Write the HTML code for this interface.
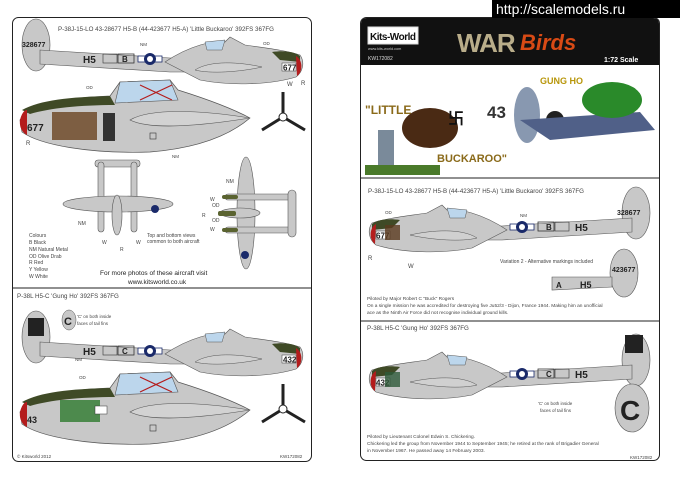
<!DOCTYPE html>
<html><head><meta charset="utf-8"><style>
body{margin:0;background:#fff;width:680px;height:480px;overflow:hidden}
svg{display:block}
text{font-family:"Liberation Sans",Arial,sans-serif}
</style></head><body>
<svg width="680" height="480" viewBox="0 0 680 480" xmlns="http://www.w3.org/2000/svg">
<defs>
<g id="plane">
  <ellipse cx="36" cy="45" rx="14" ry="26" fill="#c8c8c8" stroke="#555" stroke-width="0.6"/>
  <path d="M40 50 L170 58 L300 58 L300 72 L170 72 L40 64 Z" fill="#c8c8c8" stroke="#555" stroke-width="0.6"/>
  <path d="M165 62 C190 45 215 40 225 42 L230 37 L245 45 C265 48 285 50 300 55 C305 62 303 72 296 77 C270 85 230 86 200 80 Z" fill="#c8c8c8" stroke="#555" stroke-width="0.6"/>
  <path d="M272 52 C285 50 295 52 300 56 L300 62 L280 60 Z" fill="#3f4a26"/>
  <path d="M296 56 C303 60 303 72 297 76 Z" fill="#b41c1c"/>
  <path d="M205 42 L225 40 L222 50 L207 50 Z" fill="#bcd6ec" stroke="#555" stroke-width="0.5"/>
  <path d="M195 70 C210 60 240 62 262 67 C240 72 210 74 195 70 Z" fill="#d0d0d0" stroke="#555" stroke-width="0.5"/>
  <rect x="282" y="63" width="14" height="8" fill="#fff" stroke="#333" stroke-width="0.5"/>
  <rect x="103" y="54" width="14" height="9" fill="none" stroke="#333" stroke-width="0.6"/>
  <rect x="118" y="54" width="16" height="9" fill="none" stroke="#333" stroke-width="0.8"/>
  <rect x="138" y="56" width="24" height="6" fill="#fff" stroke="#1a2a6a" stroke-width="0.8"/>
  <circle cx="150" cy="59" r="6" fill="#1a2a6a"/>
  <circle cx="150" cy="59" r="3" fill="#fff"/>
</g>
<g id="big">
  <path d="M20 120 C30 105 60 98 110 96 L120 82 L170 80 L178 90 C210 100 235 110 250 118 C230 135 200 148 150 152 C90 154 40 145 22 132 Z" fill="#c8c8c8" stroke="#555" stroke-width="0.7"/>
  <path d="M22 110 C40 100 70 97 110 96 L115 105 C80 105 50 108 30 114 Z" fill="#3f4a26"/>
  <path d="M120 82 L170 80 L178 100 L115 103 Z" fill="#bcd6ec" stroke="#555" stroke-width="0.6"/>
  <path d="M140 85 L172 100 M172 85 L140 100" stroke="#b41c1c" stroke-width="1.2"/>
  <path d="M130 120 C150 108 200 110 250 118 C200 126 150 130 130 120 Z" fill="#d2d2d2" stroke="#555" stroke-width="0.6"/>
  <path d="M20 120 C22 112 25 110 27 110 L27 135 C23 133 19 128 20 120 Z" fill="#b41c1c"/>
  <rect x="150" y="133" width="6" height="6" fill="none" stroke="#333" stroke-width="0.6"/>
  <path d="M283 92 L283 117 M283 117 L262 130 M283 117 L305 130" stroke="#222" stroke-width="3"/>
  <circle cx="283" cy="117" r="4" fill="#fff" stroke="#222"/>
</g>
</defs>

<!-- LEFT PAGE -->
<rect x="12.5" y="17.5" width="299" height="444" rx="6" fill="#fff" stroke="#222" stroke-width="1"/>
<line x1="12" y1="288" x2="312" y2="288" stroke="#222" stroke-width="1"/>
<text x="58" y="31" font-size="6.2" fill="#444">P-38J-15-LO 43-28677 H5-B (44-423677 H5-A) 'Little Buckaroo' 392FS 367FG</text>
<use href="#plane"/>
<use href="#big"/>
<text x="283" y="70.5" font-size="8" font-weight="bold" fill="#222">677</text>
<text x="83" y="63" font-size="10" font-weight="bold" fill="#222">H5</text>
<text x="122" y="62" font-size="8" font-weight="bold" fill="#222">B</text>
<text x="22" y="47" font-size="7" font-weight="bold" fill="#222">328677</text>
<text x="27" y="131" font-size="10" font-weight="bold" fill="#222">677</text>
<rect x="52" y="112" width="45" height="28" fill="#6a4420" opacity="0.8"/>
<rect x="103" y="113" width="12" height="28" fill="#333"/>
<g font-size="4.5" fill="#444">
<text x="140" y="46">NM</text><text x="263" y="45">OD</text><text x="86" y="89">OD</text><text x="172" y="158">NM</text>
</g>
<text x="26" y="145" font-size="6" fill="#444">R</text>
<text x="301" y="85" font-size="6" fill="#444">R</text>
<text x="287" y="86" font-size="6" fill="#444">W</text>

<!-- top views -->
<g fill="#c8c8c8" stroke="#555" stroke-width="0.6">
  <rect x="95" y="160" width="45" height="7" rx="3"/>
  <rect x="98" y="162" width="6" height="70" rx="3"/>
  <rect x="131" y="162" width="6" height="70" rx="3"/>
  <ellipse cx="118" cy="204" rx="55" ry="8"/>
  <ellipse cx="117" cy="215" rx="5" ry="20"/>
  <ellipse cx="246" cy="213" rx="9" ry="56"/>
  <rect x="225" y="194" width="70" height="6" rx="3"/>
  <rect x="225" y="227" width="70" height="6" rx="3"/>
  <rect x="288" y="190" width="8" height="47" rx="4"/>
  <ellipse cx="240" cy="213" rx="20" ry="5"/>
</g>
<rect x="222" y="195" width="16" height="4" rx="2" fill="#5a6330"/>
<rect x="222" y="228" width="16" height="4" rx="2" fill="#5a6330"/>
<rect x="218" y="211" width="18" height="5" rx="2" fill="#5a6330"/>
<circle cx="155" cy="209" r="4" fill="#1a2a6a"/>
<circle cx="245" cy="255" r="4" fill="#1a2a6a"/>
<g font-size="5" fill="#444">
<text x="78" y="225">NM</text><text x="102" y="244">W</text><text x="120" y="251">R</text><text x="136" y="244">W</text>
<text x="226" y="183">NM</text><text x="210" y="201">W</text><text x="212" y="207">OD</text><text x="202" y="217">R</text><text x="212" y="222">OD</text><text x="210" y="231">W</text>
<text x="147" y="237">Top and bottom views</text><text x="147" y="243">common to both aircraft</text>
<text x="29" y="237">Colours</text><text x="29" y="244">B Black</text><text x="29" y="251">NM Natural Metal</text><text x="29" y="258">OD Olive Drab</text><text x="29" y="264">R Red</text><text x="29" y="271">Y Yellow</text><text x="29" y="278">W White</text>
</g>
<text x="100" y="275" font-size="6.5" fill="#222">For more photos of these aircraft visit</text>
<text x="128" y="284" font-size="6.5" fill="#222">www.kitsworld.co.uk</text>

<text x="17" y="298" font-size="6.2" fill="#444">P-38L H5-C 'Gung Ho' 392FS 367FG</text>
<g transform="translate(0,292)"><use href="#plane"/><use href="#big"/></g>
<text x="283" y="362.5" font-size="8" font-weight="bold" fill="#222">432</text>
<text x="83" y="355" font-size="10" font-weight="bold" fill="#222">H5</text>
<text x="122" y="354" font-size="8" font-weight="bold" fill="#222">C</text>
<rect x="28" y="318" width="16" height="18" fill="#222"/>
<text x="27" y="423" font-size="9" font-weight="bold" fill="#222">43</text>
<rect x="60" y="400" width="40" height="22" fill="#2e7a2e" opacity="0.8"/>
<rect x="95" y="406" width="12" height="8" fill="#fff" stroke="#333" stroke-width="0.5"/>
<ellipse cx="69" cy="320" rx="7" ry="10" fill="#c8c8c8" stroke="#555" stroke-width="0.5"/>
<text x="64" y="325" font-size="11" font-weight="bold" fill="#222">C</text>
<text x="77" y="318" font-size="4.5" fill="#444">'C' on both inside</text><text x="77" y="325" font-size="4.5" fill="#444">faces of tail fins</text>
<text x="75" y="361" font-size="4.5" fill="#444">NM</text><text x="79" y="379" font-size="4.5" fill="#444">OD</text>
<text x="17" y="458" font-size="4.5" fill="#444">© Kitsworld 2012</text>
<text x="280" y="458" font-size="4.5" fill="#444">KW172082</text>

<!-- RIGHT PAGE -->
<rect x="360.5" y="17.5" width="299" height="443" rx="6" fill="#fff" stroke="#222" stroke-width="1"/>
<path d="M361 65 L361 24 Q361 18 367 18 L653 18 Q659 18 659 24 L659 65 Z" fill="#111"/>
<rect x="368" y="27" width="50" height="17" fill="#fff" stroke="#ddd"/>
<text x="370" y="40" font-size="10" font-weight="bold" fill="#111" textLength="46">Kits-World</text>
<text x="368" y="50" font-size="3.8" fill="#ccc">www.kits-world.com</text>
<text x="368" y="60" font-size="5" fill="#ddd">KW172082</text>
<text x="457" y="52" font-size="26" font-weight="bold" fill="#b9ad8a" letter-spacing="-1">WAR</text>
<text x="520" y="50" font-size="22" font-style="italic" font-weight="bold" fill="#d84a15" font-family="Liberation Serif">Birds</text>
<text x="604" y="62" font-size="7" font-weight="bold" fill="#fff">1:72 Scale</text>
<line x1="360" y1="178" x2="660" y2="178" stroke="#222"/>
<line x1="360" y1="321" x2="660" y2="321" stroke="#222"/>
<text x="365" y="114" font-size="12" font-weight="bold" fill="#8a6a1a">"LITTLE</text>
<text x="437" y="162" font-size="11" font-weight="bold" fill="#8a6a1a">BUCKAROO"</text>
<ellipse cx="430" cy="128" rx="28" ry="20" fill="#4a2a14"/>
<rect x="378" y="130" width="16" height="35" fill="#7a8a9a"/>
<path d="M365 165 L440 165 L440 175 L365 175 Z" fill="#4a7a2a"/>
<text x="448" y="124" font-size="16" font-weight="bold" fill="#111">卐</text>
<text x="487" y="118" font-size="17" font-weight="bold" fill="#333">43</text>
<ellipse cx="527" cy="115" rx="13" ry="28" fill="#8898b0"/>
<circle cx="555" cy="120" r="9" fill="#222"/>
<path d="M520 120 L640 112 L655 130 L550 140 Z" fill="#506088"/>
<ellipse cx="612" cy="100" rx="30" ry="18" fill="#2a8a2a"/>
<text x="540" y="84" font-size="9" font-weight="bold" fill="#b8960a">GUNG HO</text>
<g font-size="6.2" fill="#444">
<text x="368" y="193">P-38J-15-LO 43-28677 H5-B (44-423677 H5-A) 'Little Buckaroo' 392FS 367FG</text>
<text x="500" y="263" font-size="5">Variation 2 - Alternative markings included</text>
<text x="367" y="300" font-size="4.8">Piloted by Major Robert C "Buck" Rogers</text>
<text x="367" y="307" font-size="4.8">On a single mission he was accredited for destroying five Ju52/3 - Dijon, France 1944. Making him an unofficial</text>
<text x="367" y="314" font-size="4.8">ace as the Ninth Air Force did not recognise individual ground kills.</text>
<text x="367" y="330">P-38L H5-C 'Gung Ho' 392FS 367FG</text>
<text x="367" y="438" font-size="4.8">Piloted by Lieutenant Colonel Edwin S. Chickering.</text>
<text x="367" y="445" font-size="4.8">Chickering led the group from November 1944 to September 1945; he retired at the rank of Brigadier General</text>
<text x="367" y="452" font-size="4.8">in November 1967. He passed away 14 February 2003.</text>
<text x="630" y="459" font-size="4.5">KW172082</text>
<text x="538" y="405" font-size="4.5">'C' on both inside</text><text x="540" y="412" font-size="4.5">faces of tail fins</text>
</g>
<g transform="translate(672,168) scale(-1,1)"><use href="#plane"/></g>
<g transform="translate(672,315) scale(-1,1)"><use href="#plane"/></g>
<!-- right plane 1 texts -->
<text x="376" y="238.5" font-size="8" font-weight="bold" fill="#222">677</text>
<text x="575" y="231" font-size="10" font-weight="bold" fill="#222">H5</text>
<text x="546" y="230" font-size="8" font-weight="bold" fill="#222">B</text>
<text x="617" y="215" font-size="7" font-weight="bold" fill="#222">328677</text>
<rect x="385" y="225" width="15" height="15" fill="#5a3a1e" opacity="0.8"/>
<text x="368" y="260" font-size="6" fill="#444">R</text><text x="408" y="268" font-size="6" fill="#444">W</text>
<text x="520" y="217" font-size="4.5" fill="#444">NM</text><text x="385" y="214" font-size="4.5" fill="#444">OD</text>
<!-- right plane 2 texts -->
<text x="376" y="385.5" font-size="8" font-weight="bold" fill="#222">432</text>
<text x="575" y="378" font-size="10" font-weight="bold" fill="#222">H5</text>
<text x="546" y="377" font-size="8" font-weight="bold" fill="#222">C</text>
<rect x="385" y="372" width="15" height="15" fill="#2e5a3a" opacity="0.8"/>
<rect x="625" y="335" width="18" height="18" fill="#222"/>
<!-- variation tail -->
<ellipse cx="624" cy="273" rx="14" ry="24" fill="#c8c8c8" stroke="#555" stroke-width="0.6"/>
<path d="M552 277 L612 277 L612 287 L552 290 Z" fill="#c8c8c8" stroke="#555" stroke-width="0.6"/>
<text x="612" y="272" font-size="7" font-weight="bold" fill="#222">423677</text>
<text x="580" y="288" font-size="9" font-weight="bold" fill="#222">H5</text>
<text x="556" y="288" font-size="8" font-weight="bold" fill="#222">A</text>
<ellipse cx="632" cy="408" rx="17" ry="24" fill="#c8c8c8" stroke="#555" stroke-width="0.6"/>
<text x="620" y="420" font-size="28" font-weight="bold" fill="#222">C</text>
<rect x="492" y="0" width="188" height="18" fill="#000"/>
<text x="496" y="14" font-size="14" fill="#fff" font-family="Liberation Mono,monospace">http://scalemodels.ru</text>
</svg>
</body></html>
